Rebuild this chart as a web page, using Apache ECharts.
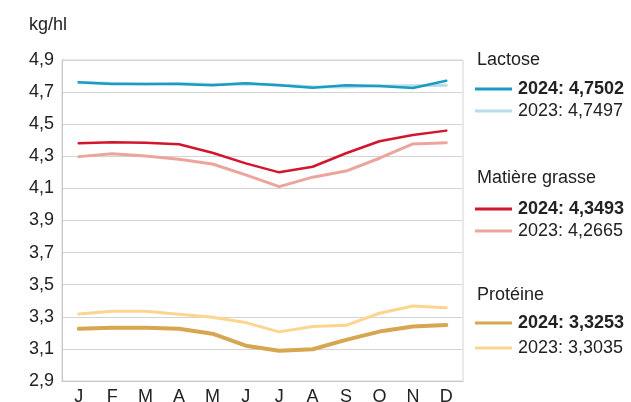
<!DOCTYPE html>
<html><head><meta charset="utf-8">
<script src="https://cdn.jsdelivr.net/npm/echarts@6/dist/echarts.min.js"></script>
<style>html,body{margin:0;padding:0;background:#fff}#c{width:631px;height:402px}</style>
</head><body><div id="c"></div>
<script>
const months = ['J','F','M','A','M','J','J','A','S','O','N','D'];
const yTicks = [2.9,3.1,3.3,3.5,3.7,3.9,4.1,4.3,4.5,4.7,4.9];
const lactose2024 = [4.761,4.750,4.750,4.750,4.743,4.755,4.743,4.727,4.742,4.738,4.726,4.771];
const lactose2023 = [4.758,4.755,4.750,4.753,4.748,4.750,4.744,4.733,4.732,4.738,4.740,4.742];
const mg2024 = [4.381,4.387,4.385,4.375,4.322,4.256,4.200,4.235,4.319,4.394,4.433,4.460];
const mg2023 = [4.298,4.316,4.302,4.281,4.252,4.184,4.111,4.170,4.208,4.288,4.377,4.385];
const prot2024 = [3.226,3.232,3.232,3.226,3.195,3.120,3.089,3.098,3.156,3.208,3.239,3.249];
const prot2023 = [3.318,3.335,3.335,3.316,3.297,3.264,3.206,3.239,3.247,3.322,3.367,3.357];
const groupTitles = ['Lactose','Matière grasse','Protéine'];
const legend2024 = ['2024: 4,7502','2024: 4,3493','2024: 3,3253'];
const legend2023 = ['2023: 4,7497','2023: 4,2665','2023: 3,3035'];

const colors2024 = ['#1a9cc1','#d1162d','#d6a651'];
const colors2023 = ['#b9dced','#eba59e','#fdd58e'];
const width2024 = [2.5,2.5,4];
const width2023 = [3,3,3];
const FONT = '"Liberation Sans", Arial, sans-serif';

const chart = echarts.init(document.getElementById('c'), null, {renderer:'canvas'});
const mkSeries = (data, color, w, z) => ({
  type:'line', data, symbol:'none', smooth:false, z,
  lineStyle:{color, width:w, cap:'round', join:'round'}, animation:false
});
const series = [
  mkSeries(lactose2023, colors2023[0], width2023[0], 2),
  mkSeries(lactose2024, colors2024[0], width2024[0], 3),
  mkSeries(mg2023, colors2023[1], width2023[1], 2),
  mkSeries(mg2024, colors2024[1], width2024[1], 3),
  mkSeries(prot2023, colors2023[2], width2023[2], 2),
  mkSeries(prot2024, colors2024[2], width2024[2], 3)
];

const graphic = [{type:'text', left:29, top:16, style:{text:'kg/hl', font:'18px '+FONT, fill:'#222'}}];
const titleY = [60,178,295], y24 = [89,209,323], y23 = [111,231,348];
for (let i=0;i<3;i++){
  graphic.push({type:'text', x:477, y:titleY[i], style:{text:groupTitles[i], font:'18px '+FONT, fill:'#222', verticalAlign:'middle'}});
  graphic.push({type:'line', shape:{x1:475,y1:y24[i],x2:512,y2:y24[i]}, style:{stroke:colors2024[i], lineWidth:3}});
  graphic.push({type:'text', x:518, y:y24[i], style:{text:legend2024[i], font:'bold 18px '+FONT, fill:'#222', verticalAlign:'middle'}});
  graphic.push({type:'line', shape:{x1:475,y1:y23[i],x2:512,y2:y23[i]}, style:{stroke:colors2023[i], lineWidth:3}});
  graphic.push({type:'text', x:518, y:y23[i], style:{text:legend2023[i], font:'18px '+FONT, fill:'#222', verticalAlign:'middle'}});
}

chart.setOption({
  animation:false,
  grid:{left:62, top:60, right:168, bottom:21, show:true, borderColor:'#d4d4d4', borderWidth:1,
    containLabel:false, outerBoundsMode:'none'},
  xAxis:{type:'category', data:months, boundaryGap:true,
    axisLine:{lineStyle:{color:'#c8c8c8', width:1}},
    axisTick:{inside:true, length:8, alignWithLabel:true, lineStyle:{color:'#c8c8c8'}},
    axisLabel:{color:'#222', fontSize:18, fontFamily:FONT, margin:7, interval:0}},
  yAxis:{type:'value', min:2.9, max:4.9, interval:0.2,
    axisLine:{show:true, lineStyle:{color:'#c8c8c8'}}, axisTick:{show:false},
    splitLine:{lineStyle:{color:'#d4d4d4', width:1}},
    axisLabel:{color:'#222', fontSize:18, fontFamily:FONT, margin:8,
      formatter:v=>{const t=yTicks.find(x=>Math.abs(x-v)<1e-6);return t===undefined?'':t.toFixed(1).replace('.',',');}}},
  series, graphic
});
</script></body></html>
